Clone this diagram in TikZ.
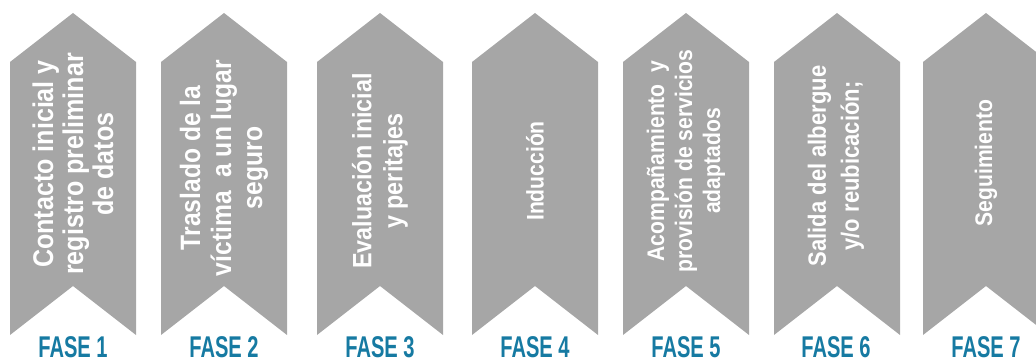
\documentclass[tikz,border=0pt]{standalone}
\usepackage{fontspec}
\setmainfont{Liberation Sans}
\newfontfamily\chevfont[FakeStretch=0.88]{Liberation Sans}
\newfontfamily\fasefont[FakeStretch=0.67]{Liberation Sans}
\definecolor{chevgray}{HTML}{A6A6A6}
\definecolor{faseblue}{RGB}{22,122,162}
\newcommand\chevsize[2]{\chevfont\bfseries\fontsize{#1}{#2}\selectfont}
\begin{document}
\begin{tikzpicture}[x=1pt,y=1pt,
  chev/.style={fill=chevgray,draw=none},
  chevtext/.style={rotate=90,align=center,text=white,inner sep=0pt},
  faselabel/.style={anchor=base,text=faseblue,inner sep=0pt,
    font=\fasefont\bfseries\fontsize{30}{30}\selectfont}]
\useasboundingbox (0,0) rectangle (1036,362);
\foreach \l in {10,161,317,472,623,774,923}{
  \path[chev] (\l,300) -- (\l+63,349) -- (\l+126,300) -- (\l+126,27)
     -- (\l+63,76) -- (\l,27) -- cycle;
}
\node[chevtext,font=\chevsize{28.5}{30}] (t1) at (73,198) {Contacto inicial y\\registro preliminar\\de datos};
\node[chevtext,font=\chevsize{28}{31}] (t2) at (224,194) {Traslado de la\\víctima\ \ a un lugar\\seguro};
\node[chevtext,font=\chevsize{26.5}{31}] (t3) at (380,191) {Evaluación inicial\\y peritajes};
\node[chevtext,font=\chevsize{24}{31}] (t4) at (535,191) {Inducción};
\node[chevtext,font=\chevsize{24}{28}] (t5) at (686,201) {Acompañamiento\ \ y\\provisión de servicios\\adaptados};
\node[chevtext,font=\chevsize{25}{33}] (t6) at (836,196) {Salida del albergue\\y/o reubicación;};
\node[chevtext,font=\chevsize{24}{31}] (t7) at (986,199) {Seguimiento};
\node[faselabel] (f1) at (73,5) {FASE 1};
\node[faselabel] (f2) at (224,5) {FASE 2};
\node[faselabel] (f3) at (380,5) {FASE 3};
\node[faselabel] (f4) at (535,5) {FASE 4};
\node[faselabel] (f5) at (686,5) {FASE 5};
\node[faselabel] (f6) at (836,5) {FASE 6};
\node[faselabel] (f7) at (986,5) {FASE 7};
\end{tikzpicture}
\end{document}
